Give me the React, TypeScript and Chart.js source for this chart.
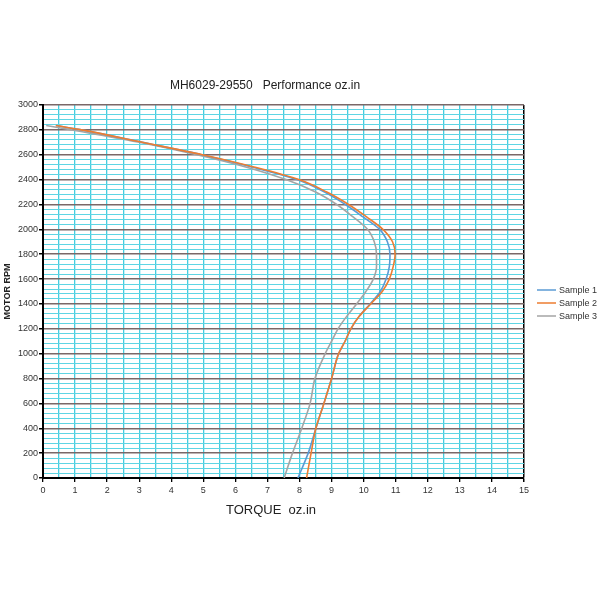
import React, { useEffect, useRef } from "react";
import { Chart, registerables } from "chart.js";

Chart.register(...registerables);

const rpm = [2835, 2800, 2700, 2600, 2500, 2400, 2300, 2200, 2100, 2000, 1900, 1800, 1700, 1600, 1500, 1400, 1300, 1200, 1100, 1000, 800, 600, 400, 200, 0];
const sample1 = [0.4, 1.2, 3.1, 4.95, 6.55, 7.92, 8.78, 9.43, 9.98, 10.5, 10.74, 10.82, 10.8, 10.7, 10.52, 10.2, 9.86, 9.6, 9.42, 9.22, 9.0, 8.76, 8.51, 8.27, 7.95];
const sample2 = [0.4, 1.2, 3.1, 4.97, 6.6, 7.98, 8.85, 9.53, 10.09, 10.6, 10.9, 10.98, 10.92, 10.8, 10.58, 10.22, 9.86, 9.6, 9.42, 9.22, 9.0, 8.76, 8.51, 8.36, 8.22];
const sample3 = [0.1, 0.9, 3.0, 4.8, 6.35, 7.58, 8.5, 9.16, 9.67, 10.12, 10.33, 10.4, 10.4, 10.3, 10.07, 9.78, 9.47, 9.2, 9.0, 8.8, 8.48, 8.33, 8.07, 7.78, 7.52];
const seriesNames = ["Sample 1", "Sample 2", "Sample 3"];
const seriesColors = ["#5b9bd5", "#ed7d31", "#a5a5a5"];
const seriesOrder = [1, 0, 2];
const chartTitle = "MH6029-29550   Performance oz.in";
const xTitle = "TORQUE  oz.in";
const yTitle = "MOTOR RPM";

const FONT = "'Liberation Sans', Arial, sans-serif";
const CYAN_V = "#45cde0";
const CYAN_H = "#5fd5e4";
const MAJOR = "#7a6868";

const textPlugin = {
  id: "texts",
  afterDraw(chart: any) {
    const ctx = chart.ctx;
    ctx.save();
    ctx.fillStyle = "#222";
    ctx.textBaseline = "middle";
    ctx.textAlign = "center";
    ctx.font = `12px ${FONT}`;
    ctx.fillText(chartTitle, 265, 86);
    ctx.font = `13px ${FONT}`;
    ctx.fillText(xTitle, 271, 510);
    ctx.textAlign = "left";
    ctx.font = `9px ${FONT}`;
    seriesNames.forEach((n, i) => {
      const y = 290 + i * 13;
      ctx.strokeStyle = seriesColors[i];
      ctx.lineWidth = 1.5;
      ctx.beginPath();
      ctx.moveTo(537, y);
      ctx.lineTo(556, y);
      ctx.stroke();
      ctx.fillStyle = "#333";
      ctx.fillText(n, 559, y + 0.5);
    });
    ctx.restore();
  },
};

export default function App() {
  const ref = useRef<HTMLCanvasElement>(null);
  useEffect(() => {
    if (!ref.current) return;
    const series = [sample1, sample2, sample3];
    const chart = new Chart(ref.current, {
      type: "scatter",
      data: {
        datasets: series.map((s, i) => ({
          label: seriesNames[i],
          data: s.map((t, k) => ({ x: t, y: rpm[k] })),
          showLine: true,
          borderColor: seriesColors[i],
          backgroundColor: seriesColors[i],
          borderWidth: 1.6,
          pointRadius: 0,
          order: seriesOrder[i],
          indexAxis: "y",
          cubicInterpolationMode: "monotone",
        })) as any,
      },
      options: {
        responsive: false,
        animation: false,
        layout: { padding: { left: 0, top: 105, right: 76, bottom: 79 } },
        plugins: {
          legend: { display: false },
          title: { display: false },
          tooltip: { enabled: false },
        },
        scales: {
          x: {
            type: "linear",
            min: 0,
            max: 15,
            afterFit: (s: any) => { s.height = 43; },
            ticks: {
              stepSize: 0.5,
              autoSkip: false,
              maxRotation: 0,
              padding: 3,
              color: "#333",
              font: { family: FONT, size: 9 },
              callback: (v: any) => (Number.isInteger(v) ? String(v) : ""),
            },
            grid: {
              color: (c: any) => (c.tick && c.tick.value === 15 ? "#000" : CYAN_V),
              lineWidth: (c: any) => (c.tick && c.tick.value === 15 ? 1.5 : 1.3),
              tickColor: (c: any) => (c.tick && Number.isInteger(c.tick.value) ? "#000" : "rgba(0,0,0,0)"),
              tickLength: 4,
            },
            border: { color: "#000", width: 2 },
          },
          y: {
            type: "linear",
            min: 0,
            max: 3000,
            afterFit: (s: any) => { s.width = 43; },
            title: {
              display: true,
              text: yTitle,
              color: "#222",
              font: { family: FONT, size: 9, weight: "bold" },
              padding: { top: 2, bottom: 2 },
            },
            ticks: {
              stepSize: 40,
              autoSkip: false,
              padding: 1,
              color: "#333",
              font: { family: FONT, size: 9 },
              callback: (v: any) => (v % 200 === 0 ? String(v) : ""),
            },
            grid: {
              color: (c: any) => (c.tick && c.tick.value % 200 === 0 ? MAJOR : CYAN_H),
              lineWidth: (c: any) => (c.tick && c.tick.value % 200 === 0 ? 1.5 : 1),
              tickColor: (c: any) => (c.tick && c.tick.value % 200 === 0 ? "#000" : "rgba(0,0,0,0)"),
              tickLength: 4,
            },
            border: { color: "#000", width: 2 },
          },
        },
      },
      plugins: [textPlugin],
    });
    return () => chart.destroy();
  }, []);
  return (
    <div style={{ position: "fixed", left: 0, top: 0, width: 600, height: 600, background: "#fff" }}>
      <canvas ref={ref} width={600} height={600} />
    </div>
  );
}
